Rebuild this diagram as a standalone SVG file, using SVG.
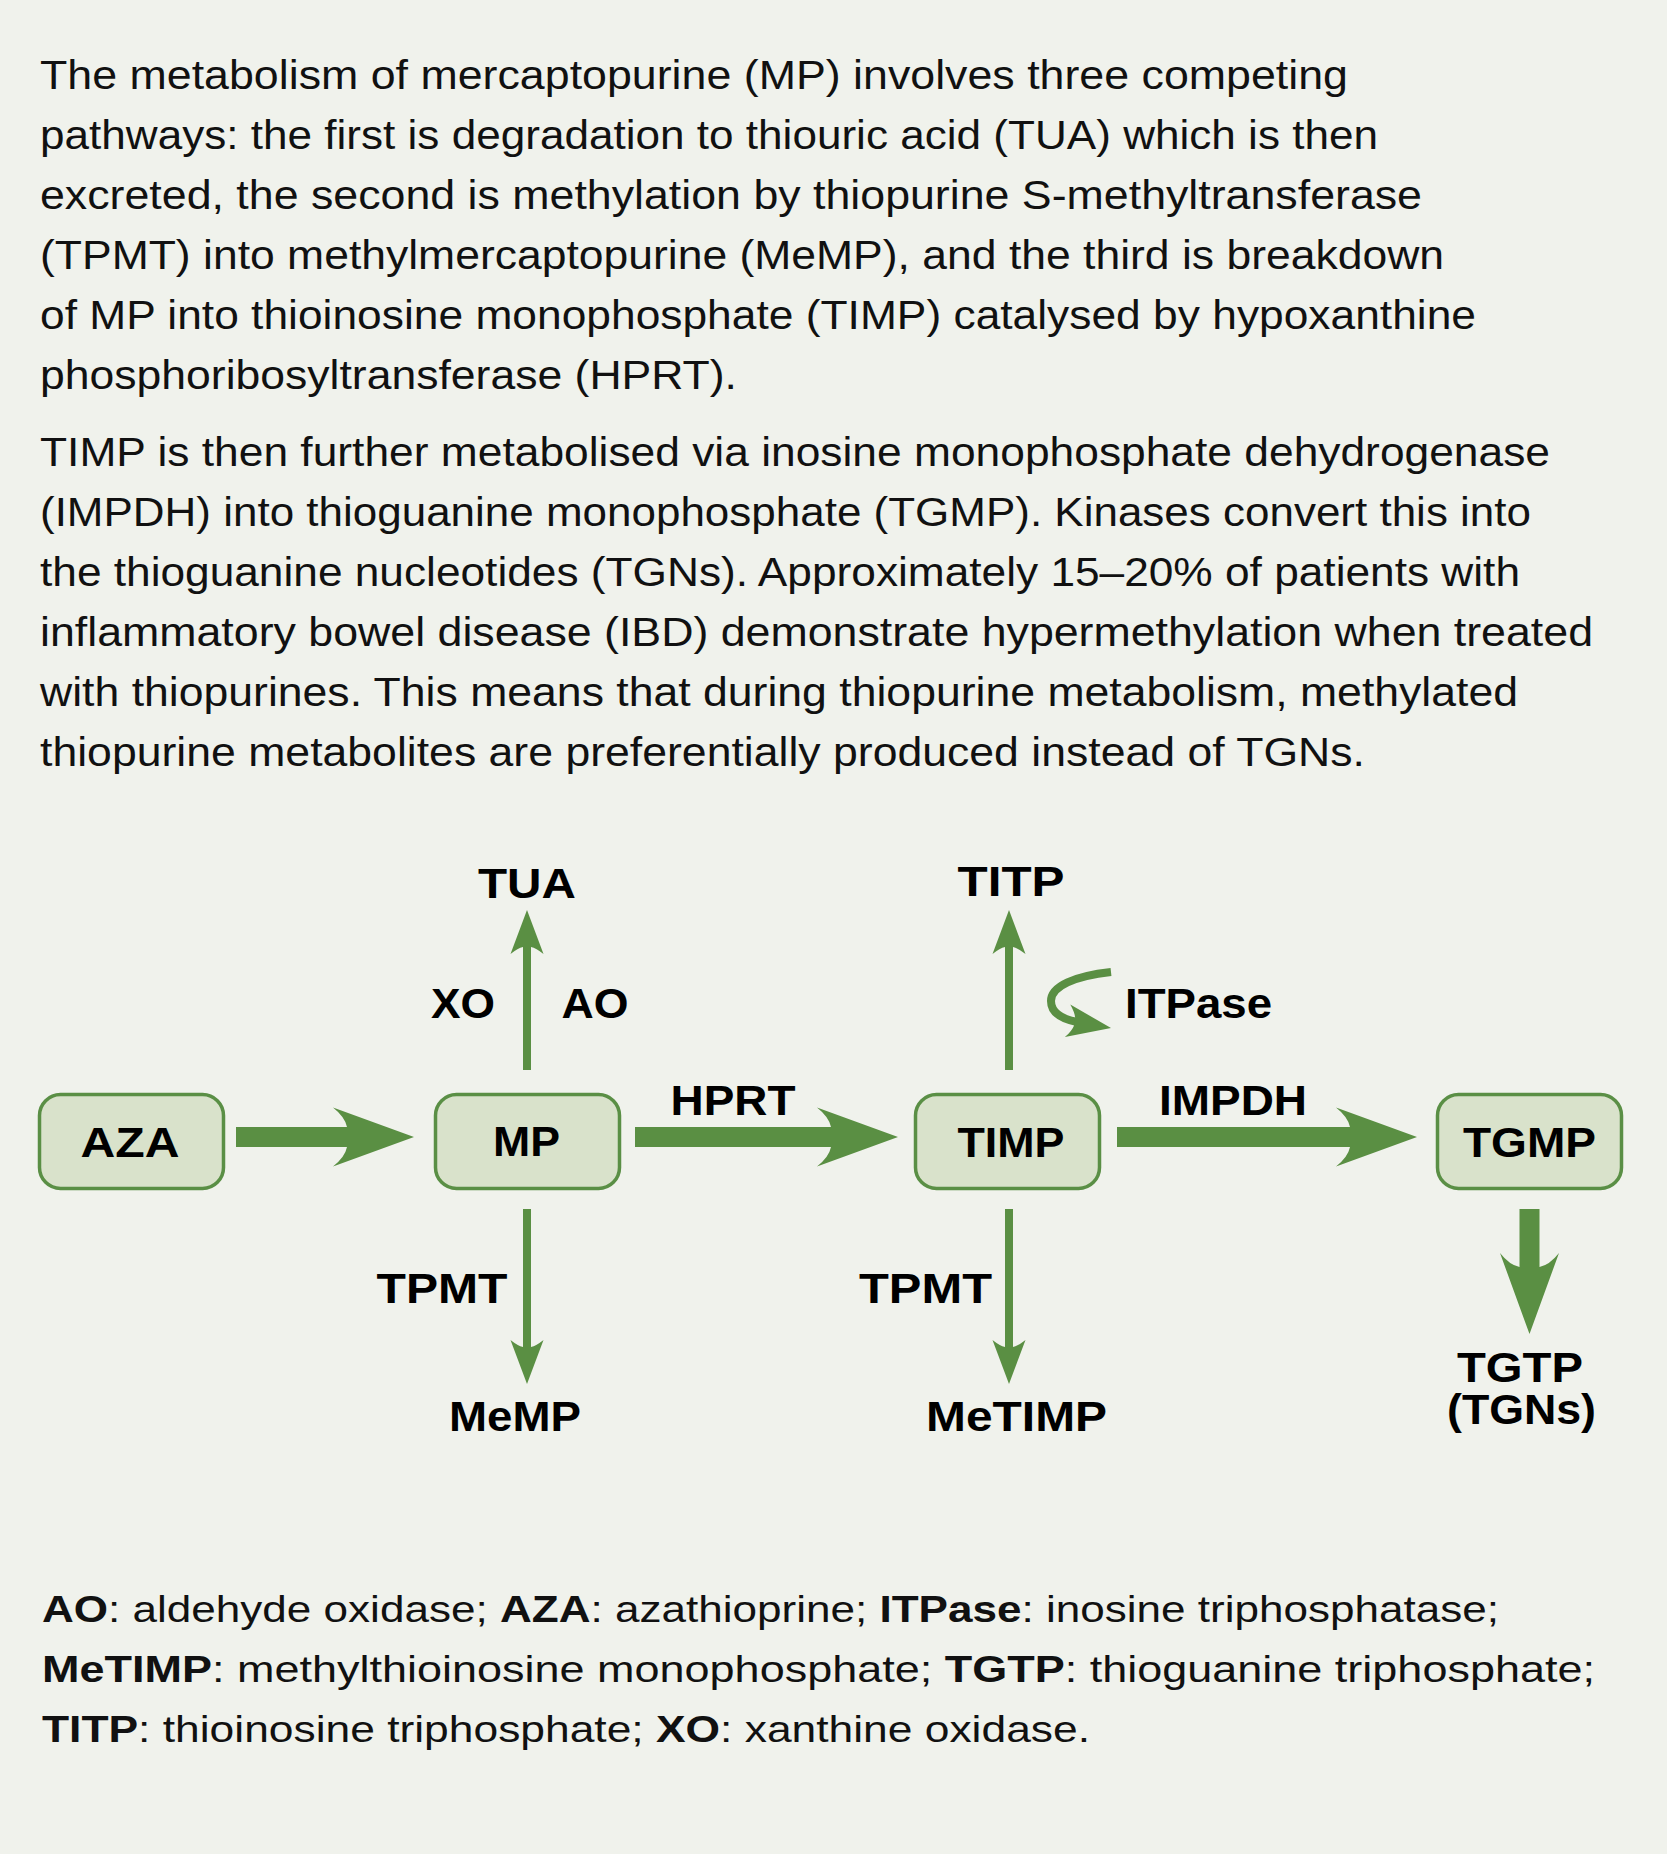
<svg xmlns="http://www.w3.org/2000/svg" xmlns:xlink="http://www.w3.org/1999/xlink" width="1667" height="1854" viewBox="0 0 1667 1854">
<style>
.body{font-family:"Liberation Sans",Arial,sans-serif;font-size:41px;fill:#111;}
.leg{font-family:"Liberation Sans",Arial,sans-serif;font-size:37px;fill:#111;}
.leg .b{font-weight:bold;}
.lbl{font-family:"Liberation Sans",Arial,sans-serif;font-size:42px;font-weight:bold;fill:#000;}
.box{fill:#d9e2cb;stroke:#5a8f45;stroke-width:3.5;}
.arr{fill:#5a8f43;}
.thin{stroke:#5a8f43;stroke-width:8;fill:none;}
</style>
<defs>
<path id="hb" d="M0,0 L-81,-29.5 Q-69,-20 -67,-10 L-67,10 Q-69,20 -81,29.5 Z"/>
<path id="hs" d="M0,0 L-44,-16.5 Q-38,-9 -37,-4 L-37,4 Q-38,9 -44,16.5 Z"/>
</defs>
<rect x="0" y="0" width="1667" height="1854" fill="#f0f2ec"/>

<g id="intro">
<text class="body" x="40" y="89" textLength="1308" lengthAdjust="spacingAndGlyphs">The metabolism of mercaptopurine (MP) involves three competing</text>
<text class="body" x="40" y="149" textLength="1338" lengthAdjust="spacingAndGlyphs">pathways: the first is degradation to thiouric acid (TUA) which is then</text>
<text class="body" x="40" y="209" textLength="1382" lengthAdjust="spacingAndGlyphs">excreted, the second is methylation by thiopurine S-methyltransferase</text>
<text class="body" x="40" y="269" textLength="1404" lengthAdjust="spacingAndGlyphs">(TPMT) into methylmercaptopurine (MeMP), and the third is breakdown</text>
<text class="body" x="40" y="329" textLength="1436" lengthAdjust="spacingAndGlyphs">of MP into thioinosine monophosphate (TIMP) catalysed by hypoxanthine</text>
<text class="body" x="40" y="389" textLength="697" lengthAdjust="spacingAndGlyphs">phosphoribosyltransferase (HPRT).</text>
<text class="body" x="40" y="466" textLength="1510" lengthAdjust="spacingAndGlyphs">TIMP is then further metabolised via inosine monophosphate dehydrogenase</text>
<text class="body" x="40" y="526" textLength="1491" lengthAdjust="spacingAndGlyphs">(IMPDH) into thioguanine monophosphate (TGMP). Kinases convert this into</text>
<text class="body" x="40" y="586" textLength="1480" lengthAdjust="spacingAndGlyphs">the thioguanine nucleotides (TGNs). Approximately 15–20% of patients with</text>
<text class="body" x="40" y="646" textLength="1553" lengthAdjust="spacingAndGlyphs">inflammatory bowel disease (IBD) demonstrate hypermethylation when treated</text>
<text class="body" x="40" y="706" textLength="1478" lengthAdjust="spacingAndGlyphs">with thiopurines. This means that during thiopurine metabolism, methylated</text>
<text class="body" x="40" y="766" textLength="1325" lengthAdjust="spacingAndGlyphs">thiopurine metabolites are preferentially produced instead of TGNs.</text>
</g>

<g id="connectors">
<rect class="arr" x="236" y="1127" width="112" height="20"/>
<use class="arr" xlink:href="#hb" href="#hb" transform="translate(414,1137)"/>
<rect class="arr" x="635" y="1127" width="198" height="20"/>
<use class="arr" xlink:href="#hb" href="#hb" transform="translate(898,1137)"/>
<rect class="arr" x="1117" y="1127" width="234" height="20"/>
<use class="arr" xlink:href="#hb" href="#hb" transform="translate(1417,1137)"/>
<rect class="arr" x="1519.5" y="1209" width="20" height="60"/>
<use class="arr" xlink:href="#hb" href="#hb" transform="translate(1529.5,1334) rotate(90)"/>
<line class="thin" x1="527" y1="1070" x2="527" y2="946"/>
<use class="arr" xlink:href="#hs" href="#hs" transform="translate(527,910) rotate(-90)"/>
<line class="thin" x1="527" y1="1209" x2="527" y2="1348"/>
<use class="arr" xlink:href="#hs" href="#hs" transform="translate(527,1384) rotate(90)"/>
<line class="thin" x1="1009" y1="1070" x2="1009" y2="946"/>
<use class="arr" xlink:href="#hs" href="#hs" transform="translate(1009,910) rotate(-90)"/>
<line class="thin" x1="1009" y1="1209" x2="1009" y2="1348"/>
<use class="arr" xlink:href="#hs" href="#hs" transform="translate(1009,1384) rotate(90)"/>
<path class="thin" d="M1111,972 C1075,976 1051,986 1051,1001 C1051,1013 1062,1019 1077,1022"/>
<use class="arr" xlink:href="#hs" href="#hs" transform="translate(1111,1028) rotate(9.4)"/>
</g>

<g id="node-AZA">
<rect class="box" x="39.5" y="1094.5" width="184" height="94" rx="21"/>
<text class="lbl" x="130" y="1157" text-anchor="middle" textLength="99" lengthAdjust="spacingAndGlyphs">AZA</text>
</g>
<g id="node-MP">
<rect class="box" x="435.5" y="1094.5" width="184" height="94" rx="21"/>
<text class="lbl" x="526.5" y="1156" text-anchor="middle" textLength="67" lengthAdjust="spacingAndGlyphs">MP</text>
</g>
<g id="node-TIMP">
<rect class="box" x="915.5" y="1094.5" width="184" height="94" rx="21"/>
<text class="lbl" x="1011" y="1157" text-anchor="middle" textLength="107" lengthAdjust="spacingAndGlyphs">TIMP</text>
</g>
<g id="node-TGMP">
<rect class="box" x="1437.5" y="1094.5" width="184" height="94" rx="21"/>
<text class="lbl" x="1529.5" y="1157" text-anchor="middle" textLength="133" lengthAdjust="spacingAndGlyphs">TGMP</text>
</g>
<g id="node-TUA"><text class="lbl" x="527" y="898" text-anchor="middle" textLength="98" lengthAdjust="spacingAndGlyphs">TUA</text></g>
<g id="node-MeMP"><text class="lbl" x="515" y="1431" text-anchor="middle" textLength="132" lengthAdjust="spacingAndGlyphs">MeMP</text></g>
<g id="node-TITP"><text class="lbl" x="1011" y="896" text-anchor="middle" textLength="107" lengthAdjust="spacingAndGlyphs">TITP</text></g>
<g id="node-MeTIMP"><text class="lbl" x="1016.5" y="1431" text-anchor="middle" textLength="181" lengthAdjust="spacingAndGlyphs">MeTIMP</text></g>
<g id="node-TGTP">
<text class="lbl" x="1520" y="1382" text-anchor="middle" textLength="126" lengthAdjust="spacingAndGlyphs">TGTP</text>
<text class="lbl" x="1521.5" y="1424" text-anchor="middle" textLength="149" lengthAdjust="spacingAndGlyphs">(TGNs)</text>
</g>

<g id="edge-labels">
<text class="lbl" x="463" y="1018" text-anchor="middle" textLength="64" lengthAdjust="spacingAndGlyphs">XO</text>
<text class="lbl" x="595" y="1018" text-anchor="middle" textLength="67" lengthAdjust="spacingAndGlyphs">AO</text>
<text class="lbl" x="442" y="1303" text-anchor="middle" textLength="131" lengthAdjust="spacingAndGlyphs">TPMT</text>
<text class="lbl" x="733" y="1115" text-anchor="middle" textLength="125" lengthAdjust="spacingAndGlyphs">HPRT</text>
<text class="lbl" x="1125" y="1018" textLength="147" lengthAdjust="spacingAndGlyphs">ITPase</text>
<text class="lbl" x="1233" y="1115" text-anchor="middle" textLength="148" lengthAdjust="spacingAndGlyphs">IMPDH</text>
<text class="lbl" x="925.5" y="1303" text-anchor="middle" textLength="133" lengthAdjust="spacingAndGlyphs">TPMT</text>
</g>

<g id="legend">
<text class="leg" x="42" y="1622" textLength="1457" lengthAdjust="spacingAndGlyphs"><tspan class="b">AO</tspan>: aldehyde oxidase; <tspan class="b">AZA</tspan>: azathioprine; <tspan class="b">ITPase</tspan>: inosine triphosphatase;</text>
<text class="leg" x="42" y="1682" textLength="1553" lengthAdjust="spacingAndGlyphs"><tspan class="b">MeTIMP</tspan>: methylthioinosine monophosphate; <tspan class="b">TGTP</tspan>: thioguanine triphosphate;</text>
<text class="leg" x="42" y="1742" textLength="1048" lengthAdjust="spacingAndGlyphs"><tspan class="b">TITP</tspan>: thioinosine triphosphate; <tspan class="b">XO</tspan>: xanthine oxidase.</text>
</g>
</svg>
